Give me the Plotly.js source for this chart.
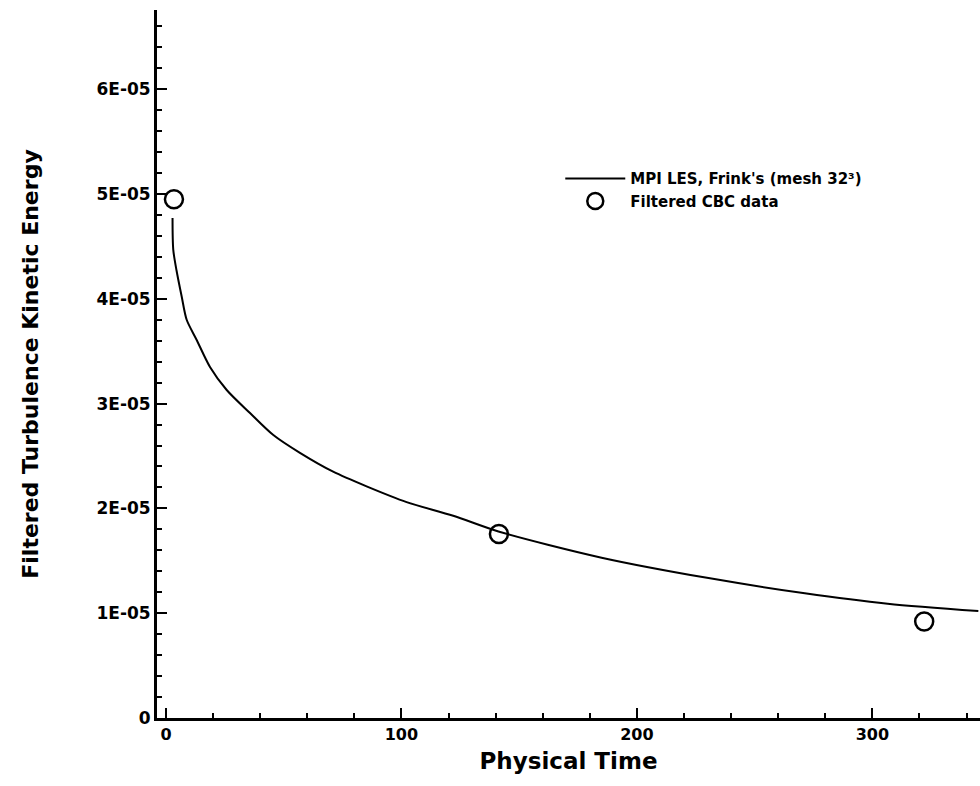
<!DOCTYPE html>
<html>
<head>
<meta charset="utf-8">
<script src="https://cdn.plot.ly/plotly-3.0.1.min.js"></script>
<style>html,body{margin:0;padding:0;background:#fff;}#chart{width:980px;height:786px;}</style>
</head>
<body>
<div id="chart"></div>
<script>
// LES curve (Physical Time vs filtered TKE)
const lesTime = [2.8, 3.1, 4.5, 6.7, 8.8, 13.0, 18.7, 25.8, 35.7, 45.6, 56.9, 71.0, 85.2, 102.2, 122, 141.2, 185, 230.4, 271.3, 306.5, 345];
const lesTke  = [4.77e-5, 4.47e-5, 4.27e-5, 4.02e-5, 3.80e-5, 3.61e-5, 3.35e-5, 3.13e-5, 2.91e-5, 2.70e-5, 2.53e-5, 2.35e-5, 2.21e-5, 2.06e-5, 1.93e-5, 1.78e-5, 1.53e-5, 1.335e-5, 1.19e-5, 1.09e-5, 1.02e-5];
// Filtered CBC data points
const cbcTime = [3.4, 141.4, 322];
const cbcTke  = [4.95e-5, 1.755e-5, 0.92e-5];
// Tick labels
const yTickVals = [0, 1e-5, 2e-5, 3e-5, 4e-5, 5e-5, 6e-5];
const yTickText = ['0', '1E-05', '2E-05', '3E-05', '4E-05', '5E-05', '6E-05'];
const xTickVals = [0, 100, 200, 300];
const xTickText = ['0', '100', '200', '300'];
const seriesNames = ["MPI LES, Frink's (mesh 32³)", 'Filtered CBC data'];

const fontFam = 'DejaVu Sans, Arial, sans-serif';

const traces = [
  {x: lesTime, y: lesTke, type: 'scatter', mode: 'lines', name: seriesNames[0],
   line: {color: '#000', width: 2, shape: 'spline', smoothing: 0.8}},
  {x: cbcTime, y: cbcTke, type: 'scatter', mode: 'markers', name: seriesNames[1],
   marker: {symbol: 'circle-open', size: 18, color: '#000', line: {width: 2.5, color: '#000'}}}
];

const layout = {
  width: 980, height: 786,
  margin: {l: 157, r: 0, t: 10, b: 68},
  paper_bgcolor: '#fff', plot_bgcolor: '#fff',
  font: {family: fontFam, color: '#000'},
  showlegend: true,
  legend: {x: 0.49, y: 0.785, xanchor: 'left', yanchor: 'top', bgcolor: 'rgba(0,0,0,0)',
           font: {size: 15, family: fontFam, weight: 'bold', color: '#000'}, itemwidth: 60, tracegroupgap: 8},
  xaxis: {
    range: [-3.8, 345.7], showgrid: false, zeroline: false,
    showline: true, linecolor: '#000', linewidth: 3,
    ticks: 'inside', ticklen: 10, tickwidth: 2, tickcolor: '#000',
    tickvals: xTickVals, ticktext: xTickText,
    tickfont: {size: 16, family: fontFam, weight: 'bold'},
    minor: {ticks: 'inside', ticklen: 5, tickwidth: 2, tickcolor: '#000', dtick: 20},
    title: {text: 'Physical Time', font: {size: 23, family: fontFam, weight: 'bold'}, standoff: 10}
  },
  yaxis: {
    range: [0, 6.756e-5], showgrid: false, zeroline: false,
    showline: true, linecolor: '#000', linewidth: 3,
    ticks: 'inside', ticklen: 10, tickwidth: 2, tickcolor: '#000',
    tickvals: yTickVals, ticktext: yTickText,
    tickfont: {size: 17, family: fontFam, weight: 'bold'},
    minor: {ticks: 'inside', ticklen: 5, tickwidth: 2, tickcolor: '#000', dtick: 2e-6},
    title: {text: 'Filtered Turbulence Kinetic Energy', font: {size: 22, family: fontFam, weight: 'bold'}, standoff: 52}
  }
};

Plotly.newPlot('chart', traces, layout, {displayModeBar: false, staticPlot: true});
</script>
</body>
</html>
